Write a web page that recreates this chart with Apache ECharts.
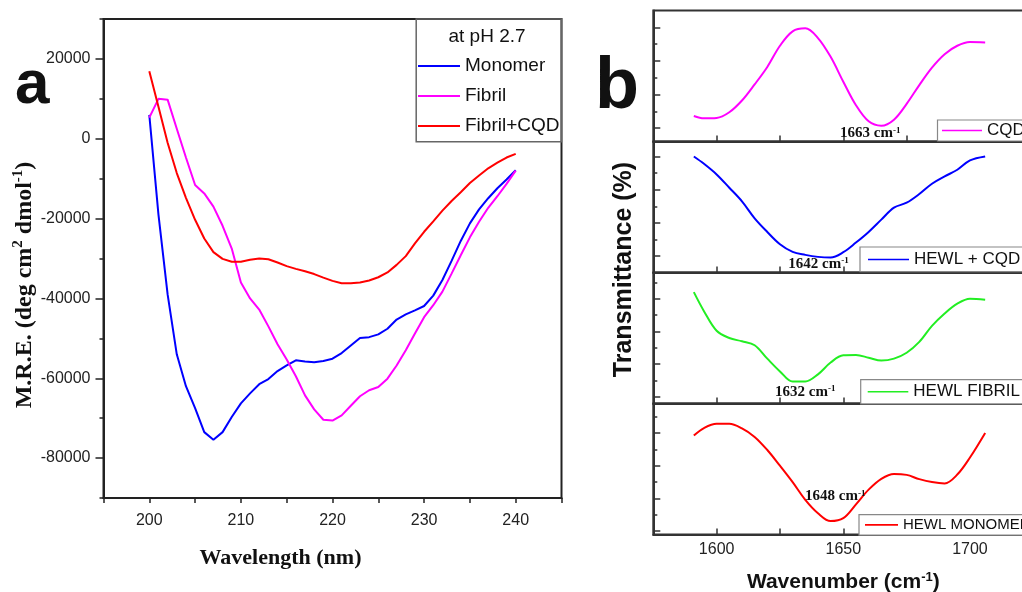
<!DOCTYPE html>
<html><head><meta charset="utf-8">
<script src="https://cdn.jsdelivr.net/npm/echarts@6/dist/echarts.min.js"></script>
<style>html,body{margin:0;padding:0;background:#fff;}#c{width:1022px;height:592px;}</style>
</head><body><div id="c"></div>
<script>
// ---------- Panel a: CD spectra ----------
const wavelength = [200,201,202,203,204,205,206,207,208,209,210,211,212,213,214,215,216,217,218,219,220,221,222,223,224,225,226,227,228,229,230,231,232,233,234,235,236,237,238,239,240];
const monomer = [6000,-19000,-39000,-54000,-62000,-67500,-73500,-75400,-73500,-69700,-66300,-63800,-61500,-60200,-58200,-56800,-55500,-55800,-56000,-55700,-55100,-53700,-51800,-49900,-49700,-49000,-47600,-45300,-44000,-43000,-41900,-39300,-35400,-30600,-25600,-21200,-17700,-14900,-12400,-10200,-7900];
const fibril = [5300,10000,9800,2500,-4700,-11600,-13700,-17000,-21800,-27500,-36000,-40000,-42800,-47000,-51500,-55300,-59500,-64300,-67800,-70400,-70600,-69300,-66900,-64500,-63000,-62200,-60100,-56800,-53000,-48800,-44700,-41700,-38300,-33800,-29200,-24700,-20800,-17300,-14400,-11300,-8000];
const fibrilCQD = [16900,8000,-1000,-8600,-14800,-20300,-25000,-28400,-30100,-30800,-30800,-30300,-30000,-30200,-31000,-31900,-32600,-33200,-33900,-34800,-35600,-36200,-36200,-36000,-35500,-34700,-33500,-31600,-29400,-26200,-23300,-20700,-18000,-15600,-13400,-11100,-9200,-7400,-6000,-4700,-3800];
const cdNames = ['Monomer','Fibril','Fibril+CQD'];
const cdYMajorTicks = [-80000,-60000,-40000,-20000,0,20000];

// ---------- Panel b: FTIR spectra (arbitrary transmittance units) ----------
const wavenumber = [1591,1595,1600,1605,1610,1615,1620,1625,1630,1635,1640,1645,1650,1655,1660,1665,1670,1675,1680,1685,1690,1695,1700,1706];
const cqd        = [0.36,0.29,0.30,0.47,0.82,1.30,1.82,2.45,2.88,2.97,2.68,2.12,1.38,0.68,0.20,0.07,0.25,0.72,1.28,1.80,2.20,2.45,2.56,2.55];
const hewlCqd    = [3.00,2.78,2.46,2.06,1.65,1.14,0.73,0.36,0.13,0.04,-0.02,-0.04,0.12,0.41,0.73,1.10,1.46,1.61,1.87,2.18,2.40,2.60,2.88,3.00];
const hewlFibril = [3.20,2.62,2.02,1.80,1.70,1.58,1.17,0.78,0.47,0.47,0.69,1.05,1.27,1.28,1.20,1.11,1.17,1.35,1.68,2.17,2.55,2.85,3.00,2.97];
const hewlMonomer= [2.92,3.15,3.28,3.28,3.14,2.88,2.48,2.00,1.50,0.96,0.55,0.31,0.40,0.82,1.27,1.60,1.75,1.72,1.59,1.50,1.46,1.73,2.25,3.00];
const ftirNames = ['CQD','HEWL + CQD','HEWL FIBRIL','HEWL MONOMER'];
const ftirPeaks = ['1663','1642','1632','1648'];
const ftirXTicks = [1600,1650,1700];
const ftirMajorTicks = [[0,1,2,3],[0,1,2,3],[0,1,2,3],[0,1,2,3]];
const ftirMinorTicks = [[0.5,1.5,2.5],[0.5,1.5,2.5],[0.5,1.5,2.5,3.5],[0.5,1.5,2.5,3.5]];
const ftirRanges = [[-0.4,3.5],[-0.49,3.45],[-0.2,3.8],[-0.1,3.9]];

const SANS = "'Liberation Sans',Arial,sans-serif";
const SERIF = "'Liberation Serif','Times New Roman',serif";
const AX = '#222';

const chart = echarts.init(document.getElementById('c'));

const panelTops = [10.5, 141.5, 272.5, 403.5];
const ftirColors = ['#ff00ff','#0000ff','#22ee22','#ff0000'];
const ftirData = [cqd, hewlCqd, hewlFibril, hewlMonomer];

const grids = [{left:103.5, top:19, width:458, height:479, show:true, borderColor:AX, borderWidth:2, outerBoundsMode:'none', containLabel:false}];
panelTops.forEach(t => grids.push({left:653.3, width:380, top:t, height:131, show:true, borderColor:'#333', borderWidth:2, outerBoundsMode:'none', containLabel:false}));

const xAxes = [{
  gridIndex:0, type:'value', min:195, max:245, interval:5, position:'bottom',
  axisLine:{onZero:false, lineStyle:{color:AX, width:2}},
  axisTick:{length:5, lineStyle:{color:AX, width:1.5}},
  axisLabel:{formatter:v => (v % 10 === 0 ? String(v) : ''), fontFamily:SANS, fontSize:16, color:AX, margin:15},
  splitLine:{show:false},
  name:'Wavelength (nm)', nameLocation:'middle', nameGap:49,
  nameTextStyle:{fontFamily:SERIF, fontWeight:'bold', fontSize:22, color:'#111', padding:[0,104,0,0]}
}];
const yAxes = [{
  gridIndex:0, type:'value', min:-90000, max:30000, interval:10000, position:'left',
  axisLine:{onZero:false, lineStyle:{color:AX, width:2}},
  axisTick:{length:4, lineStyle:{color:AX, width:1.5}},
  axisLabel:{formatter:v => (cdYMajorTicks.indexOf(v) >= 0 ? String(v) : ''), fontFamily:SANS, fontSize:16, color:AX, margin:13},
  splitLine:{show:false},
  name:'{n|M.R.E. (deg cm}{s|2}{n| dmol}{s|-1}{n|)}', nameLocation:'middle', nameGap:50,
  nameTextStyle:{padding:[0,53,0,0], rich:{
    n:{fontFamily:SERIF, fontWeight:'bold', fontSize:24, color:'#111', lineHeight:26, verticalAlign:'bottom'},
    s:{fontFamily:SERIF, fontWeight:'bold', fontSize:15, color:'#111', lineHeight:15, verticalAlign:'top'}
  }}
},{
  gridIndex:0, type:'value', min:-90000, max:30000, position:'left',
  axisLine:{show:false, onZero:false}, axisLabel:{show:false}, splitLine:{show:false},
  axisTick:{show:true, length:8, customValues:cdYMajorTicks, lineStyle:{color:AX, width:1.5}}
}];

for (let k = 0; k < 4; k++) {
  const last = k === 3;
  const xa = {
    gridIndex:k+1, type:'value', min:1575, max:1725, interval:25, position:'bottom',
    axisLine:{onZero:false, lineStyle:{color:'#333', width:2}},
    axisTick:{inside:true, length:6, lineStyle:{color:'#333', width:1.5}},
    axisLabel:{show:last, formatter:v => (ftirXTicks.indexOf(v) >= 0 ? String(v) : ''), fontFamily:SANS, fontSize:16, color:'#222', margin:7},
    splitLine:{show:false}
  };
  if (last) {
    xa.name = '{n|Wavenumber (cm}{s|-1}{n|)}';
    xa.nameLocation = 'middle';
    xa.nameGap = 36;
    xa.nameTextStyle = {rich:{
      n:{fontFamily:SANS, fontWeight:'bold', fontSize:21, color:'#111', lineHeight:22, verticalAlign:'bottom'},
      s:{fontFamily:SANS, fontWeight:'bold', fontSize:13, color:'#111', lineHeight:13, verticalAlign:'top'}
    }};
  }
  xAxes.push(xa);
  yAxes.push({
    gridIndex:k+1, type:'value', min:ftirRanges[k][0], max:ftirRanges[k][1], position:'left',
    axisLine:{onZero:false, lineStyle:{color:'#333', width:2}}, axisLabel:{show:false}, splitLine:{show:false},
    axisTick:{show:true, inside:true, length:4, customValues:ftirMinorTicks[k], lineStyle:{color:'#333', width:1.5}}
  });
  yAxes.push({
    gridIndex:k+1, type:'value', min:ftirRanges[k][0], max:ftirRanges[k][1], position:'left',
    axisLine:{show:false, onZero:false}, axisLabel:{show:false}, splitLine:{show:false},
    axisTick:{show:true, inside:true, length:7, customValues:ftirMajorTicks[k], lineStyle:{color:'#333', width:1.5}}
  });
}

const cdColors = ['#0000ff','#ff00ff','#ff0000'];
const cdData = [monomer, fibril, fibrilCQD];
const series = [];
cdNames.forEach((n,i) => series.push({
  name:n, type:'line', xAxisIndex:0, yAxisIndex:0, symbol:'none', showSymbol:false,
  lineStyle:{color:cdColors[i], width:2}, itemStyle:{color:cdColors[i]},
  data: wavelength.map((w,j) => [w, cdData[i][j]])
}));
ftirNames.forEach((n,k) => series.push({
  name:n, type:'line', xAxisIndex:k+1, yAxisIndex:2+2*k, symbol:'none', showSymbol:false, smooth:0.35,
  lineStyle:{color:ftirColors[k], width:2}, itemStyle:{color:ftirColors[k]},
  data: wavenumber.map((w,j) => [w, ftirData[k][j]])
}));

const legends = [{
  data:cdNames, orient:'vertical', left:418, top:55, icon:'rect', itemWidth:42, itemHeight:2.2, itemGap:8, padding:0,
  textStyle:{fontFamily:SANS, fontSize:19, lineHeight:22, color:'#111'}
}];
const legBoxes = [
  {left:937.5, top:120, pad:[2,60,2,4.5], w:40, fs:17},
  {left:860, top:247, pad:[4,60,3.7,8], w:41, fs:17},
  {left:860.7, top:379.7, pad:[3.6,60,3.6,7], w:40.6, fs:17},
  {left:859, top:514.7, pad:[2.7,60,2.7,6], w:33, fs:15}
];
legBoxes.forEach((b,k) => legends.push({
  data:[ftirNames[k]], left:b.left, top:b.top, padding:b.pad, icon:'rect', itemWidth:b.w, itemHeight:1.6,
  borderColor:'#888', borderWidth:1.2, backgroundColor:'#fff',
  textStyle:{fontFamily:SANS, fontSize:b.fs, lineHeight:b.fs, color:'#111'}
}));

const annPos = [[840,133.3],[788.3,263.7],[775,392],[805,496.3]];
const graphics = [
  {type:'rect', shape:{x:416.2, y:19, width:145.3, height:122.7}, style:{fill:'none', stroke:'#666', lineWidth:1.5}, z:10},
  {type:'text', x:487, y:37, style:{text:'at pH 2.7', font:"19px "+SANS, fill:'#111', textAlign:'center', textVerticalAlign:'middle'}, z:10},
  {type:'text', x:15, y:86, style:{text:'a', font:"bold 62px "+SANS, fill:'#111', textAlign:'left', textVerticalAlign:'middle'}},
  {type:'text', x:595, y:88, style:{text:'b', font:"bold 72px "+SANS, fill:'#111', textAlign:'left', textVerticalAlign:'middle'}},
  {type:'text', x:624, y:269.5, rotation:Math.PI/2, style:{text:'Transmittance (%)', font:"bold 25px "+SANS, fill:'#111', textAlign:'center', textVerticalAlign:'middle'}}
];
ftirPeaks.forEach((p,k) => graphics.push({
  type:'text', x:annPos[k][0], y:annPos[k][1], z:10,
  style:{text:'{a|'+p+' cm}{s|-1}', textAlign:'left', textVerticalAlign:'middle', rich:{
    a:{font:"bold 15px "+SERIF, fill:'#111', lineHeight:15, verticalAlign:'bottom'},
    s:{font:"bold 9px "+SERIF, fill:'#111', lineHeight:9, verticalAlign:'top'}
  }}
}));

chart.setOption({
  animation:false, backgroundColor:'#fff',
  grid:grids, xAxis:xAxes, yAxis:yAxes, legend:legends, series:series, graphic:graphics
});
</script></body></html>
